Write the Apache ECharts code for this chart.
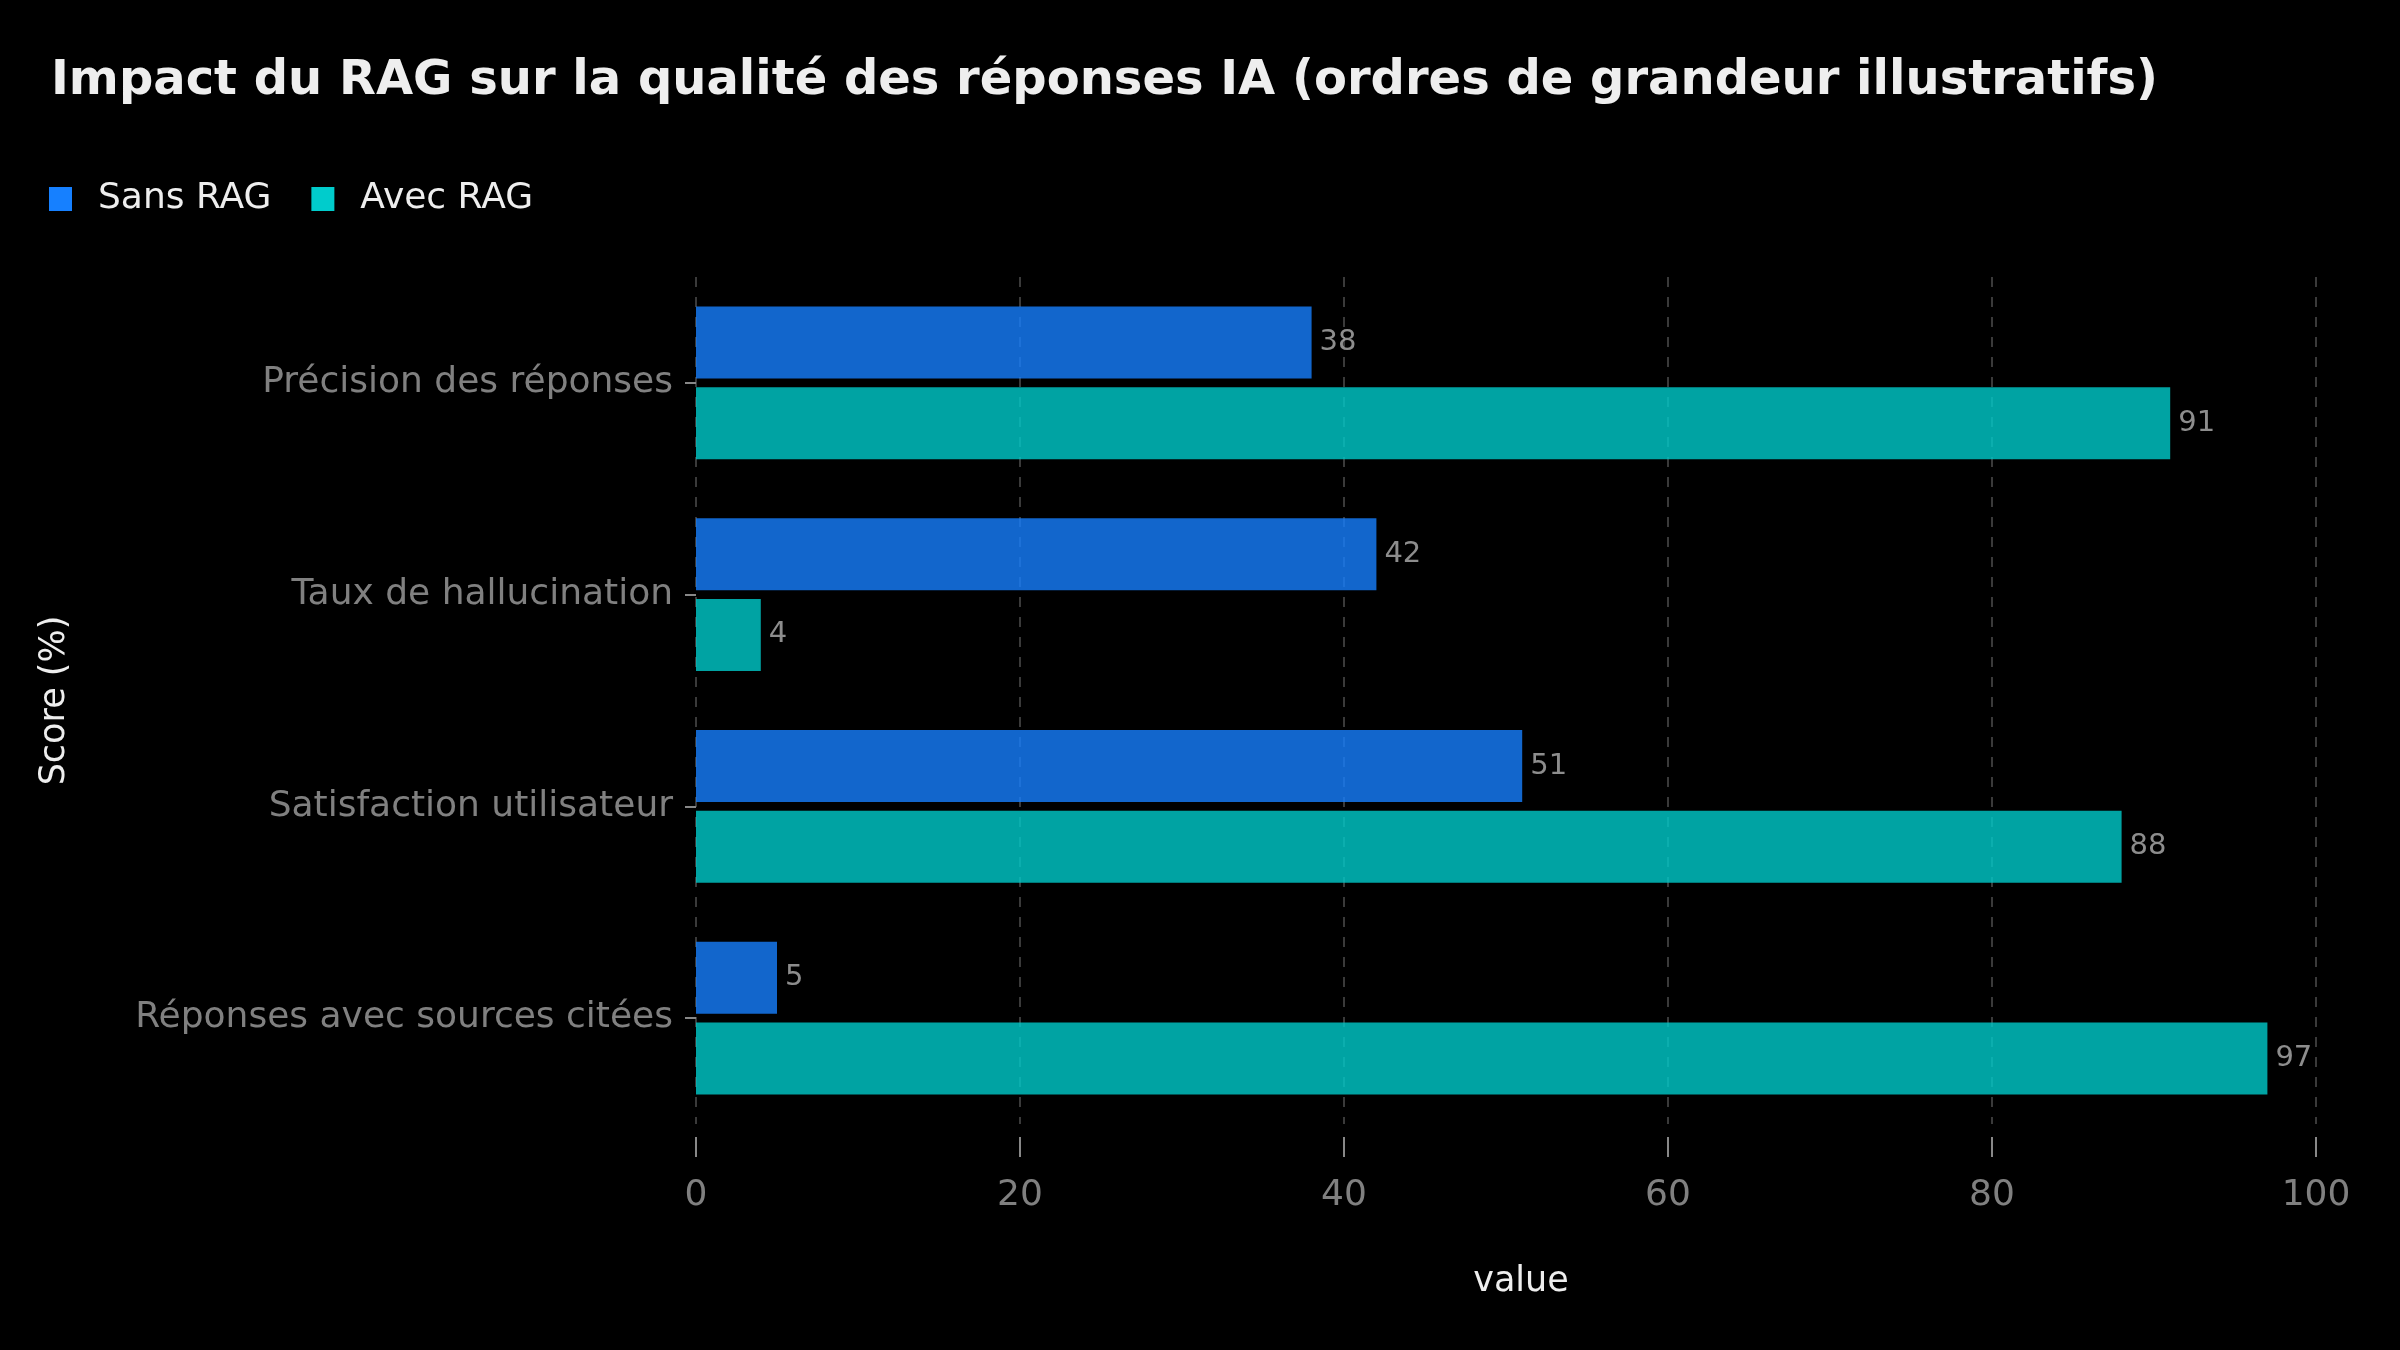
<!DOCTYPE html>
<html>
<head>
<meta charset="utf-8">
<title>Impact du RAG</title>
<script src="https://cdn.jsdelivr.net/npm/echarts@6/dist/echarts.min.js"></script>
<style>
  html, body { margin: 0; padding: 0; background: #000; }
  #chart { width: 2400px; height: 1350px; }
</style>
</head>
<body>
<div id="chart"></div>
<script>
 var myChart = echarts.init(document.getElementById('chart'));

 // données
 var categories = ['Précision des réponses', 'Taux de hallucination', 'Satisfaction utilisateur', 'Réponses avec sources citées'];
 var sansRag = [38, 42, 51, 5];
 var avecRag = [91, 4, 88, 97];
 var xTicks = [0, 20, 40, 60, 80, 100];

 var font = 'DejaVu Sans';

 var options = {
	 backgroundColor: '#000000',
	 animation: false,
	 title: {
		 text: 'Impact du RAG sur la qualité des réponses IA (ordres de grandeur illustratifs)',
		 left: 46,
		 top: 53,
		 textStyle: {
			 color: '#eeeeee',
			 fontFamily: font,
			 fontWeight: 'bold',
			 fontSize: 48
		 }
	 },
	 legend: {
		 data: ['Sans RAG', 'Avec RAG'],
		 left: 44,
		 top: 176,
		 itemWidth: 23,
		 itemHeight: 24,
		 itemGap: 40,
		 icon: 'rect',
		 itemStyle: { opacity: 1 },
		 textStyle: {
			 color: '#eeeeee',
			 fontFamily: font,
			 fontSize: 36,
			 padding: [0, 0, 0, 21]
		 }
	 },
	 grid: {
		 left: 696,
		 right: 84,
		 top: 277,
		 bottom: 226,
		 containLabel: false
	 },
	 xAxis: {
		 type: 'value',
		 min: xTicks[0],
		 max: xTicks[xTicks.length - 1],
		 interval: 20,
		 offset: 13,
		 name: 'value',
		 nameLocation: 'middle',
		 nameGap: 127,
		 nameTextStyle: { color: '#eeeeee', fontFamily: font, fontSize: 35, padding: [0, 0, 0, 30] },
		 axisLine: { show: false },
		 axisTick: { show: true, length: 20, lineStyle: { color: '#888888', width: 2 } },
		 axisLabel: { color: '#808080', fontFamily: font, fontSize: 36, margin: 41 },
		 splitLine: { show: true, lineStyle: { color: '#3a3a3a', type: [10, 10], width: 2 } }
	 },
	 yAxis: {
		 type: 'category',
		 data: categories,
		 inverse: true,
		 name: 'Score (%)',
		 nameLocation: 'middle',
		 nameGap: 624,
		 nameTextStyle: { color: '#eeeeee', fontFamily: font, fontSize: 35 },
		 axisLine: { show: false },
		 axisTick: { show: true, alignWithLabel: true, length: 11, lineStyle: { color: '#888888', width: 2 } },
		 axisLabel: { color: '#808080', fontFamily: font, fontSize: 36, margin: 23, padding: [6, 0, 0, 0] },
		 splitLine: { show: false }
	 },
	 series: [{
		 name: 'Sans RAG',
		 type: 'bar',
		 data: sansRag,
		 barWidth: '34%',
		 barGap: '12%',
		 itemStyle: { color: '#1680ff', opacity: 0.8 },
		 label: { show: true, position: 'right', distance: 8, color: '#b0b0b0', fontFamily: font, fontSize: 29, padding: [4, 0, 0, 0] }
	 },
	 {
		 name: 'Avec RAG',
		 type: 'bar',
		 data: avecRag,
		 barWidth: '34%',
		 barGap: '12%',
		 itemStyle: { color: '#00cccc', opacity: 0.8 },
		 label: { show: true, position: 'right', distance: 8, color: '#b0b0b0', fontFamily: font, fontSize: 29, padding: [4, 0, 0, 0] }
	 }
	 ]
 };

 myChart.setOption(options);
</script>
</body>
</html>
